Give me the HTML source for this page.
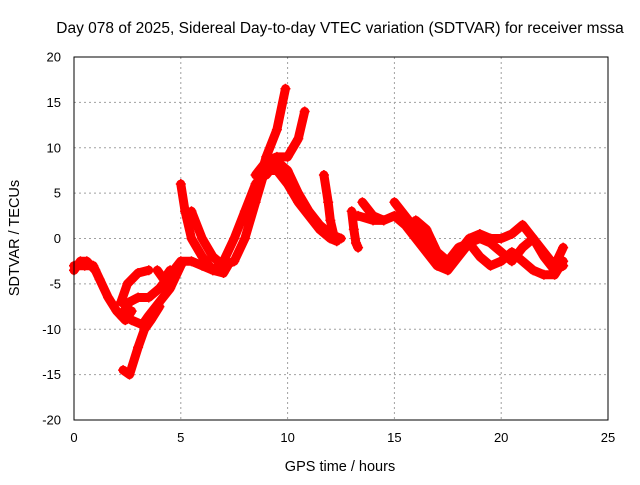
<!DOCTYPE html>
<html><head><meta charset="utf-8"><style>
body{margin:0;background:#fff}
svg text{font-family:"Liberation Sans",sans-serif;font-size:13px;fill:#000}
svg text.big{font-size:14.5px}
svg text.title{font-size:15.5px}
</style></head><body>
<svg id="c" width="640" height="480">
<rect width="640" height="480" fill="#fff"/>
<text class="title" x="340" y="33" text-anchor="middle">Day 078 of 2025, Sidereal Day-to-day VTEC variation (SDTVAR) for receiver mssa</text>
<text class="big" x="340" y="471" text-anchor="middle">GPS time / hours</text>
<text class="big" transform="translate(19,238) rotate(-90)" text-anchor="middle">SDTVAR / TECUs</text>
<g id="grid"></g><g id="ticks"></g><g id="marks"></g>
<rect x="74" y="57" width="534" height="363" fill="none" stroke="#000" stroke-width="1"/>
</svg>
<script>
const xTicks=[0,5,10,15,20,25];
const yTicks=[-20,-15,-10,-5,0,5,10,15,20];
const track1=[[0,-3],[0.5,-3],[0.9,-3],[1.2,-4.5],[1.6,-6.5],[2,-8],[2.4,-9],[2.7,-8]];
const track2=[[2.2,-8.5],[2.6,-7],[3,-6.5],[3.5,-6.5],[4,-5.5],[4.5,-4],[5,-2.5],[5.5,-2.5],[6,-3],[6.5,-3.5],[7,-2.5],[7.5,0],[8,3],[8.5,6],[9,7.5],[9.5,7.5],[10,6],[10.5,4],[11,2.5],[11.5,1],[12,0],[12.3,-0.3]];
const track3=[[2.2,-7],[2.5,-5],[3,-3.8],[3.5,-3.5]];
const track4=[[3.9,-3.5],[4.2,-4.5],[4.5,-3.5]];
const track5=[[2.3,-14.5],[2.6,-15],[3,-12],[3.3,-10],[3.6,-9],[4,-7.5]];
const track6=[[2.7,-9],[3.2,-9.5],[3.5,-8.5],[4,-7],[4.5,-5.5],[5,-3]];
const track7=[[5,6],[5.2,3],[5.5,0],[6,-2],[6.5,-3.5],[7,-3.8],[7.2,-3]];
const track8=[[5.5,3],[6,0],[6.5,-2],[7,-3],[7.5,-2.5],[8,0],[8.5,4],[9,8]];
const track9=[[8,2],[8.5,5],[9,9],[9.5,12],[9.9,16.5]];
const track10=[[8.5,7],[9,8.5],[9.5,9],[10,9],[10.5,11],[10.8,14]];
const track11=[[9,7],[9.5,8.5],[10,7.5],[10.5,5],[11,3],[11.5,1.5],[12,0.5],[12.5,0]];
const track12=[[11.7,7],[11.9,4],[12,2],[12.2,0]];
const track13=[[13,3],[13.1,1],[13.2,-0.5],[13.3,-1]];
const track14=[[13.3,2.5],[14,2],[14.5,2]];
const track15=[[13.5,4],[14,2.5],[14.5,2],[15,2.5],[15.5,1.5],[16,0],[16.5,-1.5],[17,-3],[17.5,-3.5],[18,-2],[18.5,-0.5],[19,0],[19.5,-0.5],[20,-1.5],[20.5,-2.5],[21,-1],[21.5,0],[22,-1.5],[22.5,-3],[22.9,-1]];
const track16=[[15,4],[15.5,2.5],[16,1],[16.5,-0.5],[17,-2],[17.5,-3],[18,-1.5],[18.5,0],[19,0.5],[19.5,0],[20,0],[20.5,0.5],[21,1.5],[21.5,0],[22,-2],[22.5,-3.5],[22.9,-3]];
const track17=[[16,2],[16.5,1],[17,-1.5],[17.5,-2.5],[18,-1],[18.5,-0.5],[19,-2],[19.5,-3],[20,-2.5],[20.5,-1.5],[21,-2.5],[21.5,-3.5],[22,-4],[22.5,-4],[22.9,-2.5]];
const track18=[[0,-3.5],[0.3,-2.5],[0.6,-2.5],[1,-3.5]];
const tracks=[track1,track2,track3,track4,track5,track6,track7,track8,track9,track10,track11,track12,track13,track14,track15,track16,track17,track18];

const X=h=>74+h*534/25, Y=v=>238.5-v*363/40;
const NS='http://www.w3.org/2000/svg';
function mk(t,a,p){const e=document.createElementNS(NS,t);for(const k in a)e.setAttribute(k,a[k]);p.appendChild(e);return e;}
const grid=document.getElementById('grid'),ticks=document.getElementById('ticks'),marks=document.getElementById('marks');
xTicks.forEach(t=>{
 if(t>0&&t<25){const g=mk('line',{x1:X(t),x2:X(t),y1:57,y2:420,stroke:'#a0a0a0','stroke-dasharray':'2,3'},grid);
 
 }
 const l=mk('text',{x:X(t),y:442,'text-anchor':'middle'},ticks);l.textContent=t;
 
 
});
yTicks.forEach(t=>{
 if(t>-20&&t<20){const g=mk('line',{x1:74,x2:608,y1:Y(t),y2:Y(t),stroke:'#a0a0a0','stroke-dasharray':'2,3'},grid);
 
 }
 const l=mk('text',{x:61,y:Y(t)+4.5,'text-anchor':'end'},ticks);l.textContent=t;
 
 
});
tracks.forEach((tr,i)=>{
 const g=mk('g',{},marks);
 
 
 mk('polyline',{points:tr.map(p=>X(p[0])+','+Y(p[1])).join(' '),fill:'none',stroke:'#f00','stroke-width':9,'stroke-linejoin':'round','stroke-linecap':'round'},g);
 tr.forEach(p=>{
  const x=X(p[0]),y=Y(p[1]);
  mk('path',{d:`M${x-5},${y}H${x+5}M${x},${y-5}V${y+5}`,stroke:'#f00','stroke-width':1.5},g);
 });
});
</script>
</body></html>
